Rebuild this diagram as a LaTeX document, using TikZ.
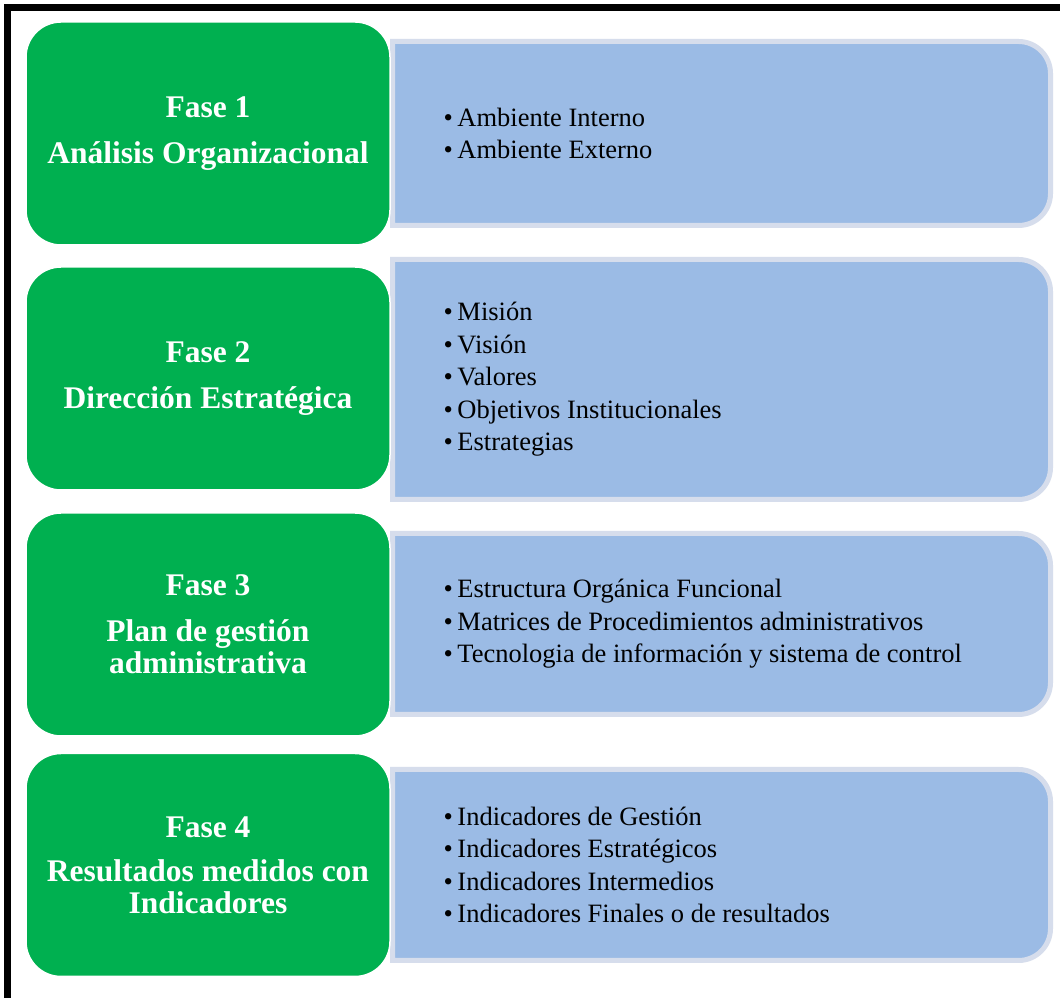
\documentclass[tikz,border=0pt]{standalone}
\usepackage{fontspec}
\setmainfont{Liberation Serif}
\definecolor{phasegreen}{RGB}{0,176,80}
\definecolor{panelblue}{RGB}{155,187,229}
\definecolor{panelrim}{RGB}{214,221,236}
\tikzset{
  phase/.style={draw=white, line width=1.5pt, fill=phasegreen, rounded corners=35pt,
    minimum width=364pt, minimum height=223pt, inner sep=0pt, align=center,
    text=white, font=\fontsize{31.5}{32}\selectfont\bfseries},
  panel/.style={fill=panelblue, draw=panelrim, line width=5pt},
  items/.style={anchor=west, inner sep=0pt, align=left,
    font=\fontsize{26.5}{32.5}\selectfont},
  frameline/.style={draw=black, line width=7pt}
}
\newcommand\bl{\textbullet\hspace{4.5pt}}
\begin{document}
\begin{tikzpicture}[x=1pt,y=1pt]
\useasboundingbox (0,0) rectangle (1060,998);
\fill[white] (0,0) rectangle (1060,998);
% outer frame (left and top visible)
\coordinate (fa) at (7.5,0);
\coordinate (fb) at (7.5,990.5);
\coordinate (fc) at (1060,990.5);
\draw[frameline] (fa) -- (fb) -- (fc);
% blue panels
\path[panel] (392.5,956.5) -- (1018.5,956.5) arc[start angle=90,end angle=0,radius=32]
  -- (1050.5,804.5) arc[start angle=0,end angle=-90,radius=32] -- (392.5,772.5) -- cycle;
\path[panel] (392.5,738.5) -- (1018.5,738.5) arc[start angle=90,end angle=0,radius=32]
  -- (1050.5,530.5) arc[start angle=0,end angle=-90,radius=32] -- (392.5,498.5) -- cycle;
\path[panel] (392.5,464.5) -- (1018.5,464.5) arc[start angle=90,end angle=0,radius=32]
  -- (1050.5,315.5) arc[start angle=0,end angle=-90,radius=32] -- (392.5,283.5) -- cycle;
\path[panel] (392.5,228.5) -- (1018.5,228.5) arc[start angle=90,end angle=0,radius=32]
  -- (1050.5,69.5) arc[start angle=0,end angle=-90,radius=32] -- (392.5,37.5) -- cycle;
% green phase boxes
\node[phase] (g1) at (208,864.5) {Fase 1\\[14pt]Análisis Organizacional};
\node[phase] (g2) at (208,619.5) {Fase 2\\[14pt]Dirección Estratégica};
\node[phase] (g3) at (208,373.5) {Fase 3\\[14pt]Plan de gestión\\administrativa};
\node[phase] (g4) at (208,133) {Fase 4\\[12pt]Resultados medidos con\\Indicadores};
% items
\node[items] (t1) at (443.5,864.5) {\bl Ambiente Interno\\\bl Ambiente Externo};
\node[items] (t2) at (443.5,618.5) {\bl Misión\\\bl Visión\\\bl Valores\\\bl Objetivos Institucionales\\\bl Estrategias};
\node[items] (t3) at (443.5,374) {\bl Estructura Orgánica Funcional\\\bl Matrices de Procedimientos administrativos\\\bl Tecnologia de información y sistema de control};
\node[items] (t4) at (443.5,133) {\bl Indicadores de Gestión\\\bl Indicadores Estratégicos\\\bl Indicadores Intermedios\\\bl Indicadores Finales o de resultados};
\end{tikzpicture}
\end{document}
